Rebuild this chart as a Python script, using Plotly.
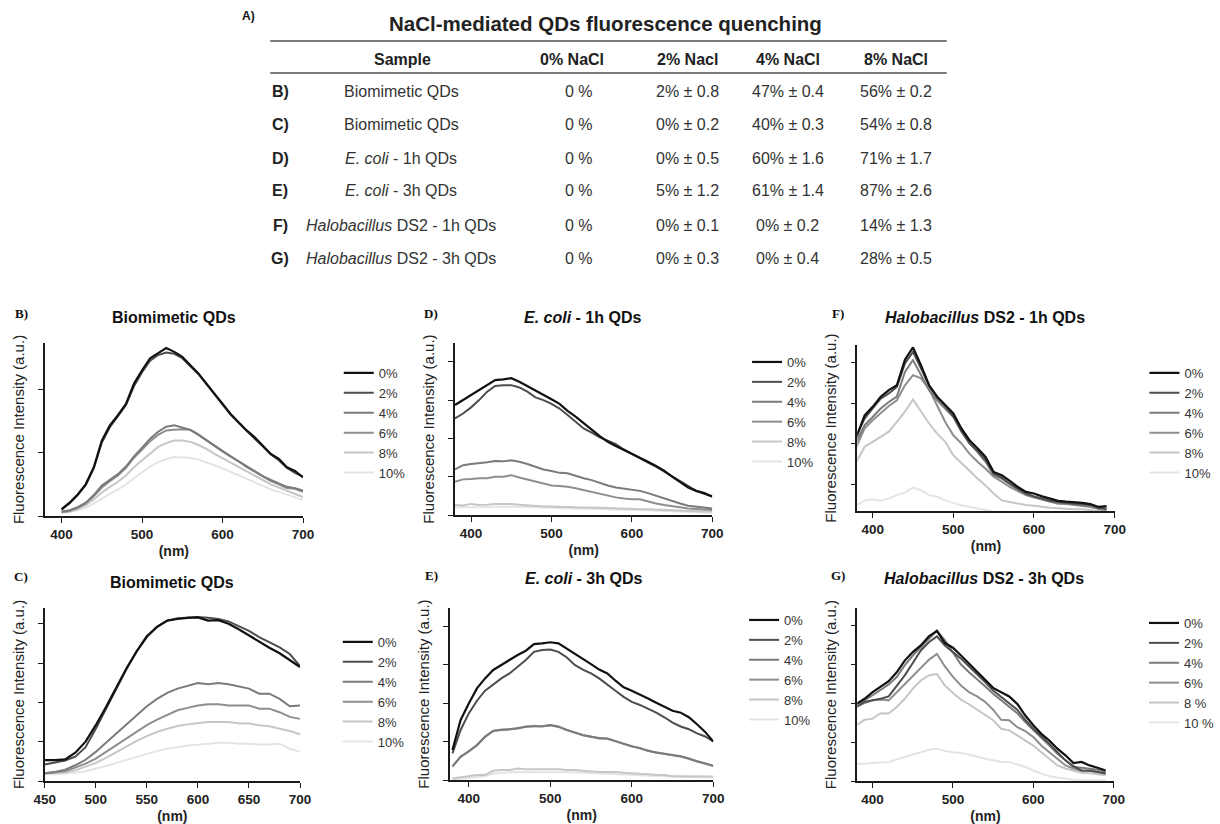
import plotly.graph_objects as go

# ---------------- data ----------------
# table (panel A)
table_title = "NaCl-mediated QDs fluorescence quenching"
col_headers = ["Sample", "0% NaCl", "2% Nacl", "4% NaCl", "8% NaCl"]
row_letters = ["B)", "C)", "D)", "E)", "F)", "G)"]
samples = ["Biomimetic QDs", "Biomimetic QDs", "<i>E. coli</i> - 1h QDs", "<i>E. coli</i> - 3h QDs",
           "<i>Halobacillus</i> DS2 - 1h QDs", "<i>Halobacillus</i> DS2 - 3h QDs"]
nacl0 = ["0 %", "0 %", "0 %", "0 %", "0 %", "0 %"]
nacl2 = ["2% ± 0.8", "0% ± 0.2", "0% ± 0.5", "5% ± 1.2", "0% ± 0.1", "0% ± 0.3"]
nacl4 = ["47% ± 0.4", "40% ± 0.3", "60% ± 1.6", "61% ± 1.4", "0% ± 0.2", "0% ± 0.4"]
nacl8 = ["56% ± 0.2", "54% ± 0.8", "71% ± 1.7", "87% ± 2.6", "14% ± 1.3", "28% ± 0.5"]

salt_labels = ["0%", "2%", "4%", "6%", "8%", "10%"]
salt_labels_g = ["0%", "2%", "4%", "6%", "8 %", "10 %"]

# wavelengths (nm)
wl_400_700 = [400, 410, 420, 430, 440, 450, 460, 470, 480, 490, 500, 510, 520, 530, 540, 550,
              560, 570, 580, 590, 600, 610, 620, 630, 640, 650, 660, 670, 680, 690, 700]
wl_450_700 = [450, 460, 470, 480, 490, 500, 510, 520, 530, 540, 550, 560, 570, 580, 590, 600,
              610, 620, 630, 640, 650, 660, 670, 680, 690, 700]
wl_380_700 = [380, 390, 400, 410, 420, 430, 440, 450, 460, 470, 480, 490, 500, 510, 520, 530, 540,
              550, 560, 570, 580, 590, 600, 610, 620, 630, 640, 650, 660, 670, 680, 690, 700]
wl_380_690 = [380, 390, 400, 410, 420, 430, 440, 450, 460, 470, 480, 490, 500, 510, 520, 530, 540,
              550, 560, 570, 580, 590, 600, 610, 620, 630, 640, 650, 660, 670, 680, 690]

# B) Biomimetic QDs
b_0 = [0.11, 0.21, 0.34, 0.50, 0.77, 1.19, 1.43, 1.59, 1.77, 2.09, 2.30, 2.49, 2.57, 2.65, 2.59, 2.51,
       2.38, 2.25, 2.09, 1.93, 1.77, 1.61, 1.48, 1.35, 1.24, 1.11, 0.98, 0.90, 0.77, 0.71, 0.61]
b_2 = [0.10, 0.20, 0.33, 0.49, 0.75, 1.16, 1.40, 1.57, 1.75, 2.05, 2.27, 2.45, 2.54, 2.58, 2.56, 2.49,
       2.37, 2.24, 2.08, 1.92, 1.76, 1.60, 1.47, 1.34, 1.22, 1.10, 0.97, 0.88, 0.76, 0.68, 0.62]
b_4 = [0.07, 0.09, 0.14, 0.21, 0.33, 0.48, 0.57, 0.66, 0.78, 0.94, 1.08, 1.22, 1.33, 1.41, 1.43, 1.40,
       1.36, 1.28, 1.19, 1.11, 1.02, 0.94, 0.86, 0.78, 0.70, 0.63, 0.57, 0.51, 0.46, 0.44, 0.40]
b_6 = [0.06, 0.08, 0.13, 0.20, 0.31, 0.45, 0.55, 0.64, 0.76, 0.92, 1.05, 1.18, 1.28, 1.35, 1.36, 1.37,
       1.36, 1.29, 1.20, 1.11, 1.02, 0.94, 0.86, 0.77, 0.70, 0.62, 0.55, 0.50, 0.44, 0.43, 0.38]
b_8 = [0.06, 0.07, 0.11, 0.17, 0.26, 0.37, 0.46, 0.54, 0.64, 0.77, 0.88, 0.99, 1.09, 1.15, 1.19, 1.19,
       1.17, 1.12, 1.06, 0.98, 0.91, 0.84, 0.77, 0.70, 0.63, 0.56, 0.50, 0.45, 0.40, 0.35, 0.30]
b_10 = [0.05, 0.06, 0.09, 0.13, 0.20, 0.28, 0.35, 0.42, 0.50, 0.60, 0.69, 0.78, 0.85, 0.90, 0.93, 0.93,
        0.92, 0.89, 0.85, 0.80, 0.75, 0.70, 0.65, 0.59, 0.53, 0.47, 0.42, 0.38, 0.34, 0.30, 0.25]

# C) Biomimetic QDs
c_0 = [0.53, 0.53, 0.55, 0.72, 1.00, 1.42, 1.88, 2.38, 2.86, 3.30, 3.68, 3.92, 4.08, 4.12, 4.15, 4.16,
       4.08, 4.09, 4.00, 3.86, 3.70, 3.53, 3.39, 3.25, 3.08, 2.90]
c_2 = [0.42, 0.47, 0.52, 0.62, 0.86, 1.33, 1.84, 2.36, 2.84, 3.29, 3.66, 3.92, 4.08, 4.14, 4.16, 4.17,
       4.15, 4.12, 4.06, 3.95, 3.82, 3.66, 3.52, 3.40, 3.23, 2.92]
c_4 = [0.20, 0.23, 0.29, 0.40, 0.54, 0.74, 0.97, 1.20, 1.44, 1.67, 1.90, 2.09, 2.24, 2.35, 2.43, 2.49,
       2.46, 2.49, 2.46, 2.41, 2.35, 2.22, 2.22, 2.09, 1.90, 1.92]
c_6 = [0.20, 0.22, 0.25, 0.34, 0.44, 0.57, 0.74, 0.91, 1.08, 1.25, 1.42, 1.56, 1.69, 1.80, 1.86, 1.92,
       1.95, 1.95, 1.92, 1.92, 1.92, 1.84, 1.84, 1.75, 1.63, 1.58]
c_8 = [0.19, 0.20, 0.22, 0.27, 0.36, 0.46, 0.59, 0.74, 0.88, 1.02, 1.14, 1.25, 1.33, 1.40, 1.44, 1.47,
       1.50, 1.50, 1.50, 1.47, 1.46, 1.42, 1.39, 1.33, 1.27, 1.19]
c_10 = [0.17, 0.17, 0.19, 0.21, 0.25, 0.31, 0.38, 0.46, 0.54, 0.63, 0.69, 0.76, 0.82, 0.86, 0.90, 0.92,
        0.95, 0.97, 0.97, 0.95, 0.95, 0.93, 0.93, 0.95, 0.82, 0.74]

# D) E. coli - 1h QDs
d_0 = [2.87, 3.00, 3.13, 3.24, 3.37, 3.52, 3.54, 3.57, 3.48, 3.37, 3.24, 3.13, 3.02, 2.90, 2.72, 2.57,
       2.39, 2.23, 2.06, 1.91, 1.80, 1.70, 1.61, 1.50, 1.39, 1.28, 1.16, 1.00, 0.87, 0.72, 0.63, 0.57, 0.48]
d_2 = [2.52, 2.65, 2.81, 3.00, 3.22, 3.37, 3.39, 3.39, 3.33, 3.22, 3.07, 3.00, 2.90, 2.78, 2.61, 2.43,
       2.26, 2.15, 2.03, 1.94, 1.85, 1.71, 1.59, 1.48, 1.37, 1.26, 1.13, 1.00, 0.87, 0.74, 0.63, 0.55, 0.48]
d_4 = [1.19, 1.30, 1.33, 1.35, 1.38, 1.41, 1.40, 1.43, 1.39, 1.33, 1.26, 1.19, 1.15, 1.10, 1.09, 1.02,
       0.96, 0.91, 0.83, 0.77, 0.72, 0.69, 0.65, 0.63, 0.57, 0.50, 0.43, 0.37, 0.30, 0.24, 0.22, 0.20, 0.17]
d_6 = [0.87, 0.93, 0.94, 0.96, 0.96, 1.00, 1.00, 1.04, 0.98, 0.93, 0.87, 0.83, 0.77, 0.76, 0.74, 0.70,
       0.65, 0.61, 0.55, 0.50, 0.46, 0.43, 0.41, 0.41, 0.35, 0.30, 0.26, 0.22, 0.20, 0.17, 0.16, 0.15, 0.13]
d_8 = [0.26, 0.25, 0.29, 0.26, 0.27, 0.29, 0.29, 0.29, 0.27, 0.25, 0.24, 0.22, 0.22, 0.22, 0.21, 0.20,
       0.20, 0.19, 0.19, 0.18, 0.17, 0.16, 0.16, 0.15, 0.15, 0.14, 0.13, 0.12, 0.11, 0.10, 0.10, 0.09, 0.09]
d_10 = [0.20, 0.20, 0.20, 0.21, 0.21, 0.21, 0.22, 0.22, 0.21, 0.21, 0.20, 0.19, 0.18, 0.18, 0.17, 0.17,
        0.16, 0.16, 0.15, 0.15, 0.14, 0.14, 0.14, 0.13, 0.12, 0.11, 0.11, 0.10, 0.09, 0.08, 0.07, 0.07, 0.06]

# E) E. coli - 3h QDs
e_0 = [0.78, 1.56, 1.99, 2.38, 2.64, 2.86, 2.99, 3.13, 3.25, 3.36, 3.53, 3.55, 3.58, 3.55, 3.42, 3.29,
       3.16, 3.01, 2.87, 2.77, 2.58, 2.41, 2.32, 2.23, 2.12, 2.01, 1.90, 1.80, 1.75, 1.63, 1.45, 1.25, 1.00]
e_2 = [0.69, 1.30, 1.73, 2.06, 2.32, 2.49, 2.64, 2.77, 2.94, 3.12, 3.33, 3.38, 3.39, 3.33, 3.19, 2.99,
       2.87, 2.77, 2.64, 2.49, 2.32, 2.16, 2.03, 1.95, 1.86, 1.75, 1.63, 1.49, 1.39, 1.32, 1.21, 1.13, 1.00]
e_4 = [0.35, 0.61, 0.74, 0.91, 1.13, 1.28, 1.30, 1.32, 1.34, 1.39, 1.40, 1.40, 1.43, 1.39, 1.30, 1.23,
       1.17, 1.13, 1.08, 1.08, 1.00, 0.94, 0.88, 0.82, 0.76, 0.71, 0.68, 0.65, 0.62, 0.56, 0.48, 0.43, 0.36]
e_6 = [0.36, 0.60, 0.75, 0.90, 1.12, 1.27, 1.31, 1.31, 1.35, 1.38, 1.41, 1.39, 1.42, 1.38, 1.31, 1.22,
       1.16, 1.12, 1.09, 1.07, 1.01, 0.93, 0.87, 0.83, 0.75, 0.72, 0.67, 0.64, 0.61, 0.55, 0.49, 0.42, 0.37]
e_8 = [0.04, 0.07, 0.10, 0.13, 0.13, 0.24, 0.26, 0.26, 0.30, 0.28, 0.28, 0.28, 0.29, 0.28, 0.26, 0.26,
       0.24, 0.22, 0.21, 0.21, 0.21, 0.19, 0.17, 0.16, 0.15, 0.13, 0.13, 0.10, 0.10, 0.10, 0.10, 0.09, 0.09]
e_10 = [0.02, 0.03, 0.05, 0.08, 0.10, 0.17, 0.19, 0.20, 0.21, 0.21, 0.21, 0.21, 0.21, 0.21, 0.20, 0.20,
        0.19, 0.18, 0.17, 0.16, 0.15, 0.14, 0.13, 0.12, 0.11, 0.10, 0.09, 0.09, 0.08, 0.08, 0.07, 0.07, 0.07]

# F) Halobacillus DS2 - 1h QDs
f_0 = [2.17, 2.70, 2.91, 3.16, 3.32, 3.44, 4.07, 4.37, 3.93, 3.44, 3.16, 2.95, 2.75, 2.38, 2.09, 1.89,
       1.68, 1.31, 1.23, 1.09, 0.94, 0.82, 0.78, 0.71, 0.66, 0.60, 0.58, 0.57, 0.55, 0.52, 0.45, 0.47]
f_2 = [2.21, 2.62, 2.87, 3.11, 3.24, 3.40, 3.98, 4.26, 3.85, 3.42, 3.14, 2.93, 2.68, 2.32, 2.01, 1.83,
       1.61, 1.27, 1.17, 1.02, 0.90, 0.78, 0.71, 0.66, 0.60, 0.57, 0.55, 0.53, 0.52, 0.50, 0.43, 0.41]
f_4 = [2.05, 2.46, 2.66, 2.87, 3.03, 3.16, 3.77, 4.06, 3.69, 3.32, 3.07, 2.87, 2.66, 2.30, 2.02, 1.80,
       1.56, 1.23, 1.15, 1.01, 0.88, 0.76, 0.70, 0.64, 0.58, 0.55, 0.53, 0.52, 0.50, 0.48, 0.42, 0.39]
f_6 = [1.93, 2.38, 2.58, 2.75, 2.93, 3.07, 3.44, 3.69, 3.61, 3.34, 2.95, 2.54, 2.21, 2.01, 1.76, 1.56,
       1.39, 1.19, 1.07, 0.94, 0.84, 0.74, 0.68, 0.63, 0.57, 0.53, 0.52, 0.50, 0.48, 0.45, 0.40, 0.37]
f_8 = [1.56, 1.93, 2.05, 2.17, 2.30, 2.54, 2.79, 3.09, 2.79, 2.50, 2.25, 2.05, 1.72, 1.52, 1.34, 1.15,
       0.98, 0.78, 0.61, 0.57, 0.53, 0.50, 0.48, 0.45, 0.43, 0.42, 0.40, 0.39, 0.39, 0.37, 0.35, 0.35]
f_10 = [0.49, 0.61, 0.63, 0.60, 0.66, 0.74, 0.80, 0.93, 0.86, 0.74, 0.70, 0.61, 0.55, 0.49, 0.45, 0.41,
        0.37, 0.34, 0.33, 0.32, 0.31, 0.30, 0.30, 0.29, 0.29, 0.28, 0.28, 0.28, 0.27, 0.27, 0.27, 0.27]

# G) Halobacillus DS2 - 3h QDs
g_0 = [1.98, 2.11, 2.28, 2.43, 2.56, 2.79, 3.09, 3.31, 3.48, 3.71, 3.85, 3.54, 3.42, 3.22, 3.01, 2.79,
       2.58, 2.39, 2.28, 2.17, 1.98, 1.68, 1.43, 1.21, 1.04, 0.83, 0.66, 0.46, 0.49, 0.40, 0.34, 0.27]
g_2 = [1.91, 2.03, 2.07, 2.11, 2.17, 2.43, 2.71, 3.03, 3.35, 3.56, 3.71, 3.48, 3.31, 3.14, 2.94, 2.75,
       2.54, 2.32, 2.15, 1.98, 1.83, 1.57, 1.34, 1.15, 0.96, 0.74, 0.53, 0.38, 0.27, 0.26, 0.23, 0.19]
g_4 = [1.98, 2.07, 2.20, 2.34, 2.48, 2.67, 2.97, 3.22, 3.44, 3.65, 3.86, 3.61, 3.31, 2.99, 2.79, 2.62,
       2.43, 2.24, 2.07, 1.90, 1.74, 1.51, 1.30, 1.11, 0.91, 0.70, 0.53, 0.36, 0.34, 0.32, 0.29, 0.23]
g_6 = [1.90, 2.00, 2.07, 2.09, 2.07, 2.28, 2.50, 2.71, 2.92, 3.11, 3.26, 2.94, 2.67, 2.45, 2.28, 2.17,
       2.03, 1.83, 1.57, 1.56, 1.38, 1.28, 1.13, 0.91, 0.74, 0.57, 0.40, 0.32, 0.26, 0.26, 0.24, 0.19]
g_8 = [1.43, 1.57, 1.60, 1.74, 1.73, 1.90, 2.11, 2.37, 2.58, 2.71, 2.75, 2.45, 2.26, 2.09, 1.97, 1.83,
       1.71, 1.56, 1.34, 1.30, 1.17, 1.04, 0.91, 0.74, 0.57, 0.40, 0.32, 0.27, 0.21, 0.20, 0.17, 0.15]
g_10 = [0.44, 0.44, 0.46, 0.47, 0.49, 0.55, 0.62, 0.68, 0.74, 0.80, 0.83, 0.77, 0.74, 0.72, 0.68, 0.62,
        0.57, 0.53, 0.49, 0.49, 0.43, 0.36, 0.27, 0.19, 0.12, 0.09, 0.06, 0.03, 0.02, 0.02, 0.02, 0.02]

# ---------------- styling / layout ----------------
W, H = 1220, 824
FONT = "Liberation Sans, Arial, Helvetica, sans-serif"
SERIF = "Liberation Serif, Times New Roman, serif"
series_colors = ["#111111", "#4d4d4d", "#7a7a7a", "#8e8e8e", "#c6c6c6", "#e4e4e4"]
series_widths = [2.2, 2, 2, 2, 2, 2]


def fx(p):
    return p / W


def fy(p):
    return 1 - p / H


panels = [
    dict(letter="B)", title="<b>Biomimetic QDs</b>", wl=wl_400_700,
         series=[b_0, b_2, b_4, b_6, b_8, b_10], labels=salt_labels,
         box=(45, 305, 343, 516), xr=[379, 700], x0=400, dx=100, yr=[0, 2.73],
         title_pos=(175, 317), letter_pos=(22, 314), leg=(341, 358)),
    dict(letter="C)", title="<b>Biomimetic QDs</b>", wl=wl_450_700,
         series=[c_0, c_2, c_4, c_6, c_8, c_10], labels=salt_labels,
         box=(45, 302, 608, 781), xr=[450, 700], x0=450, dx=50, yr=[0, 4.4],
         title_pos=(173, 582), letter_pos=(21, 576), leg=(340, 627)),
    dict(letter="D)", title="<b><i>E. coli</i> - 1h QDs</b>", wl=wl_380_700,
         series=[d_0, d_2, d_4, d_6, d_8, d_10], labels=salt_labels,
         box=(458, 717, 343, 515), xr=[380, 700], x0=400, dx=100, yr=[0, 4.49],
         title_pos=(586, 317), letter_pos=(434, 314), leg=(752, 347)),
    dict(letter="E)", title="<b><i>E. coli</i> - 3h QDs</b>", wl=wl_380_700,
         series=[e_0, e_2, e_4, e_6, e_8, e_10], labels=salt_labels,
         box=(453, 718, 608, 780), xr=[377, 700], x0=400, dx=100, yr=[0, 4.47],
         title_pos=(587, 578), letter_pos=(434, 575), leg=(749, 605)),
    dict(letter="F)", title="<b><i>Halobacillus</i> DS2 - 1h QDs</b>", wl=wl_380_690,
         series=[f_0, f_2, f_4, f_6, f_8, f_10], labels=salt_labels,
         box=(863, 1122, 345, 511), xr=[381, 700], x0=400, dx=100, yr=[0.35, 4.43],
         title_pos=(992, 317), letter_pos=(844, 314), leg=(1152, 358)),
    dict(letter="G)", title="<b><i>Halobacillus</i> DS2 - 3h QDs</b>", wl=wl_380_690,
         series=[g_0, g_2, g_4, g_6, g_8, g_10], labels=salt_labels_g,
         box=(863, 1121, 608, 781), xr=[381, 700], x0=400, dx=100, yr=[0, 4.44],
         title_pos=(990, 578), letter_pos=(844, 575), leg=(1152, 608)),
]

fig = go.Figure()
annotations = []
shapes = []
layout = dict(
    width=W, height=H, margin=dict(l=0, r=0, t=0, b=0),
    paper_bgcolor="white", plot_bgcolor="white",
    font=dict(family=FONT, color="#222222"),
)

for i, p in enumerate(panels, start=1):
    sfx = "" if i == 1 else str(i)
    leg_name = "legend" if i == 1 else f"legend{i}"
    # lightest first so the darkest curves sit on top
    for k in reversed(range(len(p["series"]))):
        fig.add_trace(go.Scatter(
            x=p["wl"], y=p["series"][k], mode="lines", name=p["labels"][k],
            line=dict(color=series_colors[k], width=series_widths[k]),
            xaxis=f"x{sfx}", yaxis=f"y{sfx}", legend=leg_name, showlegend=True,
            hoverinfo="skip",
        ))
    x0, x1, y0, y1 = p["box"]
    layout[f"xaxis{sfx}"] = dict(
        domain=[fx(x0), fx(x1)], anchor=f"y{sfx}", range=p["xr"],
        tick0=p["x0"], dtick=p["dx"], showgrid=False, zeroline=False,
        showline=True, linecolor="#1a1a1a", linewidth=1.6,
        ticks="outside", ticklen=5, tickwidth=1.4, tickcolor="#1a1a1a",
        tickfont=dict(family=FONT, size=13.5, color="#222222", weight="bold"),
        title=dict(text="<b>(nm)</b>", font=dict(family=FONT, size=14, color="#222222"), standoff=5),
        automargin=False,
    )
    layout[f"yaxis{sfx}"] = dict(
        domain=[fy(y1), fy(y0)], anchor=f"x{sfx}", range=p["yr"],
        tick0=0, dtick=1, showticklabels=False, showgrid=False, zeroline=False,
        showline=True, linecolor="#1a1a1a", linewidth=1.6,
        ticks="outside", ticklen=5, tickwidth=1.4, tickcolor="#1a1a1a",
        title=dict(text="Fluorescence Intensity (a.u.)",
                   font=dict(family=FONT, size=15, color="#222222"), standoff=10),
        automargin=False,
    )
    lx, ly = p["leg"]
    layout[leg_name] = dict(
        x=fx(lx), y=fy(ly), xanchor="left", yanchor="top",
        bgcolor="rgba(0,0,0,0)", borderwidth=0, traceorder="reversed",
        font=dict(family=FONT, size=13, color="#333333"),
        itemwidth=30, tracegroupgap=0, itemclick=False, itemdoubleclick=False,
    )
    tx, ty = p["title_pos"]
    annotations.append(dict(text=p["title"], x=fx(tx), y=fy(ty), xref="paper", yref="paper",
                            xanchor="center", yanchor="middle", showarrow=False,
                            font=dict(family=FONT, size=16, color="#111111")))
    lx2, ly2 = p["letter_pos"]
    annotations.append(dict(text="<b>" + p["letter"] + "</b>", x=fx(lx2), y=fy(ly2),
                            xref="paper", yref="paper", xanchor="center", yanchor="middle",
                            showarrow=False, font=dict(family=SERIF, size=13, color="#111111")))

# ---------------- table (panel A) ----------------
annotations.append(dict(text="<b>A)</b>", x=fx(250), y=fy(16), xref="paper", yref="paper",
                        xanchor="center", yanchor="middle", showarrow=False,
                        font=dict(family=FONT, size=12, color="#111111")))
annotations.append(dict(text="<b>" + table_title + "</b>", x=fx(609), y=fy(24), xref="paper",
                        yref="paper", xanchor="center", yanchor="middle", showarrow=False,
                        font=dict(family=FONT, size=20.5, color="#222222")))
header_x = [405, 576, 692, 793, 902]
col_x = [404, 583, 692, 793, 902]
header_y = 59
row_y = [92, 125, 158, 191, 225, 258]
for cx, h in zip(header_x, col_headers):
    annotations.append(dict(text="<b>" + h + "</b>", x=fx(cx), y=fy(header_y), xref="paper",
                            yref="paper", xanchor="center", yanchor="middle", showarrow=False,
                            font=dict(family=FONT, size=16, color="#222222")))
columns = [samples, nacl0, nacl2, nacl4, nacl8]
for r, ry in enumerate(row_y):
    annotations.append(dict(text="<b>" + row_letters[r] + "</b>", x=fx(282), y=fy(ry), xref="paper",
                            yref="paper", xanchor="center", yanchor="middle", showarrow=False,
                            font=dict(family=FONT, size=16, color="#222222")))
    for cx, col in zip(col_x, columns):
        annotations.append(dict(text=col[r], x=fx(cx), y=fy(ry), xref="paper", yref="paper",
                                xanchor="center", yanchor="middle", showarrow=False,
                                font=dict(family=FONT, size=16, color="#333333")))
for ly_ in (41, 73):
    shapes.append(dict(type="line", xref="paper", yref="paper", x0=fx(272), x1=fx(953),
                       y0=fy(ly_), y1=fy(ly_), line=dict(color="#7d7d7d", width=2)))

layout["annotations"] = annotations
layout["shapes"] = shapes
fig.update_layout(**layout)
fig.write_html("out.html")
